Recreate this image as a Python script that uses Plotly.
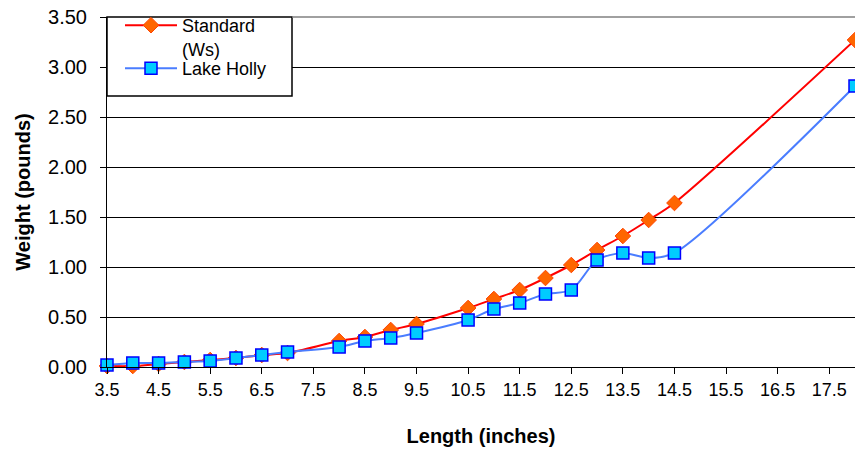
import plotly.graph_objects as go

# Data
length_in = [3.5, 4, 4.5, 5, 5.5, 6, 6.5, 7, 8, 8.5, 9, 9.5, 10.5, 11, 11.5, 12, 12.5, 13, 13.5, 14, 14.5, 18]
standard_ws = [0.01, 0.01, 0.03, 0.05, 0.07, 0.09, 0.12, 0.14, 0.26, 0.30, 0.37, 0.43, 0.59, 0.68, 0.77, 0.89, 1.02, 1.17, 1.31, 1.47, 1.64, 3.27]
lake_holly = [0.02, 0.04, 0.04, 0.05, 0.06, 0.09, 0.12, 0.15, 0.20, 0.26, 0.29, 0.34, 0.47, 0.58, 0.64, 0.73, 0.77, 1.07, 1.14, 1.09, 1.14, 2.81]
series_names = ["Standard<br>(Ws)", "Lake Holly"]
y_ticks = [0, 0.5, 1.0, 1.5, 2.0, 2.5, 3.0, 3.5]

W, H = 855, 451
ML, MR, MT, MB = 107, 0, 17, 84
PW, PH = W - ML - MR, H - MT - MB

fig = go.Figure()
fig.add_trace(go.Scatter(
    x=length_in, y=standard_ws, name=series_names[0], mode="lines+markers",
    line=dict(color="#FF0000", width=2, shape="spline", smoothing=0.8),
    marker=dict(symbol="diamond", size=12, color="#FF6600", line=dict(color="#FF4400", width=1)),
    cliponaxis=False, legend="legend",
))
fig.add_trace(go.Scatter(
    x=length_in, y=lake_holly, name=series_names[1], mode="lines+markers",
    line=dict(color="#4A7DFF", width=2, shape="spline", smoothing=0.8),
    marker=dict(symbol="square", size=12, color="#00CCFF", line=dict(color="#0000FF", width=1.5)),
    cliponaxis=False, legend="legend2",
))

font = "Liberation Sans, Arial, sans-serif"
leg_common = dict(
    xanchor="left", yanchor="top",
    bgcolor="rgba(0,0,0,0)", borderwidth=0,
    font=dict(size=18, family=font, color="black"),
    valign="top", itemwidth=52,
)


def py(pixel_y):
    return 1 - (pixel_y - MT) / PH


fig.update_layout(
    width=W, height=H,
    margin=dict(l=ML, r=MR, t=MT, b=MB, pad=0),
    paper_bgcolor="white", plot_bgcolor="white",
    font=dict(family=font, color="black"),
    showlegend=True,
    legend=dict(x=13 / PW, y=py(7), **leg_common),
    legend2=dict(x=13 / PW, y=py(50), **leg_common),
    xaxis=dict(
        range=[3.5, 18], tick0=3.5, dtick=1, showgrid=False, zeroline=False,
        showline=True, linecolor="black", linewidth=1,
        ticks="outside", ticklen=6, tickcolor="black",
        tickfont=dict(size=18, family=font),
        title=dict(text="<b>Length (inches)</b>", font=dict(size=20, family=font), standoff=30),
    ),
    yaxis=dict(
        range=[0, 3.5], tickvals=y_ticks, ticktext=[f"{v:.2f}" for v in y_ticks],
        showgrid=True, gridcolor="black", gridwidth=1, zeroline=False,
        showline=True, linecolor="black", linewidth=1,
        ticks="outside", ticklen=6, tickcolor="black",
        tickfont=dict(size=20, family=font), ticklabelstandoff=9,
        title=dict(text="<b>Weight (pounds)</b>", font=dict(size=20, family=font), standoff=12),
    ),
    shapes=[
        dict(type="rect", xref="paper", yref="paper", x0=0, x1=(292 - ML) / PW,
             y0=py(96), y1=1, fillcolor="white",
             line=dict(color="black", width=1.5), layer="above"),
        dict(type="line", xref="paper", yref="paper", x0=(292 - ML) / PW, x1=1, y0=1, y1=1,
             line=dict(color="#808080", width=1.5), layer="above"),
    ],
)

fig.write_html("out.html")
